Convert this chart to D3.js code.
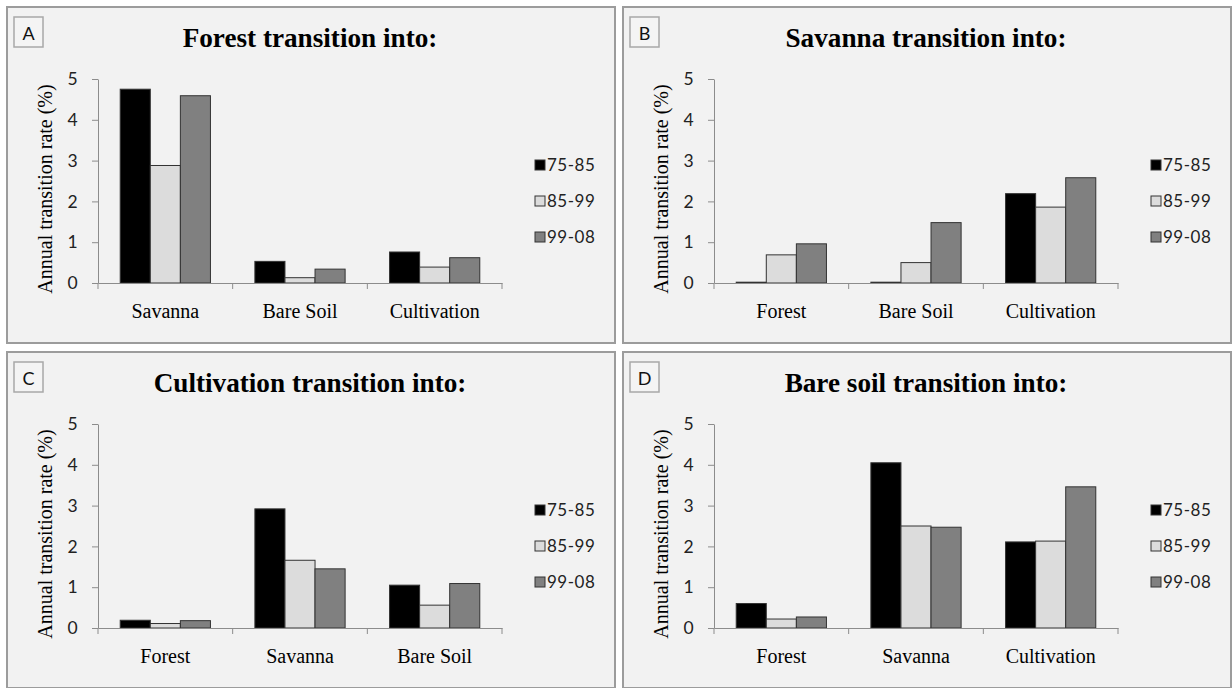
<!DOCTYPE html>
<html>
<head>
<meta charset="utf-8">
<script src="https://cdn.jsdelivr.net/npm/d3@7"></script>
<style>
  html, body { margin: 0; padding: 0; background: #ffffff; }
  svg { display: block; }
</style>
</head>
<body>
<svg id="chart" width="1232" height="688"></svg>
<script>
// ---------------- DATA ----------------
const seriesNames = ["75-85", "85-99", "99-08"];
const panelLetters = ["A", "B", "C", "D"];
const panelTitles = [
  "Forest transition into:",
  "Savanna transition into:",
  "Cultivation transition into:",
  "Bare soil transition into:"
];
const categoriesA = ["Savanna", "Bare Soil", "Cultivation"];
const categoriesB = ["Forest", "Bare Soil", "Cultivation"];
const categoriesC = ["Forest", "Savanna", "Bare Soil"];
const categoriesD = ["Forest", "Savanna", "Cultivation"];

// values per series (75-85, 85-99, 99-08), one entry per category
const valuesA = [[4.75, 0.53, 0.76], [2.88, 0.13, 0.39], [4.59, 0.34, 0.62]];
const valuesB = [[0.02, 0.02, 2.19], [0.69, 0.50, 1.86], [0.96, 1.48, 2.58]];
const valuesC = [[0.19, 2.92, 1.05], [0.11, 1.66, 0.56], [0.18, 1.45, 1.09]];
const valuesD = [[0.60, 4.05, 2.11], [0.22, 2.50, 2.13], [0.27, 2.47, 3.46]];

const yTicks = [0, 1, 2, 3, 4, 5];
const yLabel = "Annual transition rate (%)";

// ---------------- LAYOUT / STYLE ----------------
const panelCats = [categoriesA, categoriesB, categoriesC, categoriesD];
const panelVals = [valuesA, valuesB, valuesC, valuesD];
const offsets = [[0, 0], [616, 0], [0, 345], [616, 345]];
const fills = ["#000000", "#dcdcdc", "#808080"];
const serif = "'Liberation Serif', 'Times New Roman', serif";
const sans = "Lato, 'Open Sans', sans-serif";

const svg = d3.select("#chart");

panelLetters.forEach((letter, pi) => {
  const [ox, oy] = offsets[pi];
  const g = svg.append("g").attr("transform", `translate(${ox},${oy})`);

  // panel frame
  g.append("rect")
    .attr("x", 7).attr("y", 7).attr("width", 608).attr("height", 336)
    .attr("fill", "#f2f2f2").attr("stroke", "#9c9c9c").attr("stroke-width", 2);

  // letter box
  g.append("rect")
    .attr("x", 14).attr("y", 17).attr("width", 29).attr("height", 30)
    .attr("fill", "#f4f4f4").attr("stroke", "#a8a8a8").attr("stroke-width", 1.5);
  g.append("text")
    .attr("x", 28.5).attr("y", 39.5).attr("text-anchor", "middle")
    .attr("font-family", sans).attr("font-size", 18).attr("fill", "#111")
    .text(letter);

  // title
  g.append("text")
    .attr("x", 310).attr("y", 47).attr("text-anchor", "middle")
    .attr("font-family", serif).attr("font-weight", "bold").attr("font-size", 27.2)
    .attr("fill", "#000")
    .text(panelTitles[pi]);

  const cats = panelCats[pi];
  const vals = panelVals[pi];

  const x = d3.scaleBand().domain(cats).range([98, 502]).paddingInner(0).paddingOuter(0);
  const bw = x.bandwidth();
  const xs = d3.scaleBand().domain(seriesNames).range([bw * 0.165, bw * 0.835]);
  const y = d3.scaleLinear().domain([0, 5]).range([283, 79]);

  // bars
  seriesNames.forEach((s, si) => {
    g.append("g").selectAll("rect")
      .data(cats.map((c, ci) => ({ c, v: vals[si][ci] })))
      .join("rect")
      .attr("x", d => x(d.c) + xs(s))
      .attr("y", d => y(d.v))
      .attr("width", xs.bandwidth())
      .attr("height", d => y(0) - y(d.v))
      .attr("fill", fills[si])
      .attr("stroke", "#333")
      .attr("stroke-width", 1);
  });

  // y axis
  const ya = g.append("g").attr("transform", "translate(98,0)")
    .call(d3.axisLeft(y).tickValues(yTicks).tickFormat(d3.format("d"))
      .tickSize(6).tickSizeOuter(0).tickPadding(14));
  ya.select(".domain").attr("stroke", "#8c8c8c");
  ya.selectAll(".tick line").attr("stroke", "#8c8c8c");
  ya.selectAll(".tick text").attr("font-family", sans).attr("font-size", 17.5)
    .attr("fill", "#222").attr("letter-spacing", 0.4);

  // x axis: line + boundary ticks + category labels
  const xa = g.append("g").attr("transform", "translate(0,283)")
    .call(d3.axisBottom(x).tickSize(0).tickSizeOuter(0).tickPadding(0));
  xa.select(".domain").attr("stroke", "#8c8c8c");
  xa.selectAll(".tick text")
    .attr("font-family", serif).attr("font-size", 20).attr("fill", "#000")
    .attr("dy", 0).attr("y", 35);
  const bounds = cats.map(c => x(c)).concat([x.range()[1]]);
  xa.append("g").selectAll("line").data(bounds).join("line")
    .attr("x1", d => d).attr("x2", d => d).attr("y1", 0).attr("y2", 6)
    .attr("stroke", "#8c8c8c");

  // y label
  g.append("text")
    .attr("transform", "translate(52,189) rotate(-90)")
    .attr("text-anchor", "middle")
    .attr("font-family", serif).attr("font-size", 20).attr("fill", "#000")
    .text(yLabel);

  // legend
  const lg = g.append("g");
  seriesNames.forEach((s, si) => {
    const cy = 165 + si * 36;
    lg.append("rect")
      .attr("x", 535).attr("y", cy - 5).attr("width", 10).attr("height", 10)
      .attr("fill", fills[si]).attr("stroke", "#333").attr("stroke-width", 1);
    lg.append("text")
      .attr("x", 547).attr("y", cy + 5.5)
      .attr("font-family", sans).attr("font-size", 17).attr("fill", "#222")
      .attr("letter-spacing", 0.5)
      .text(s);
  });
});
</script>
</body>
</html>
